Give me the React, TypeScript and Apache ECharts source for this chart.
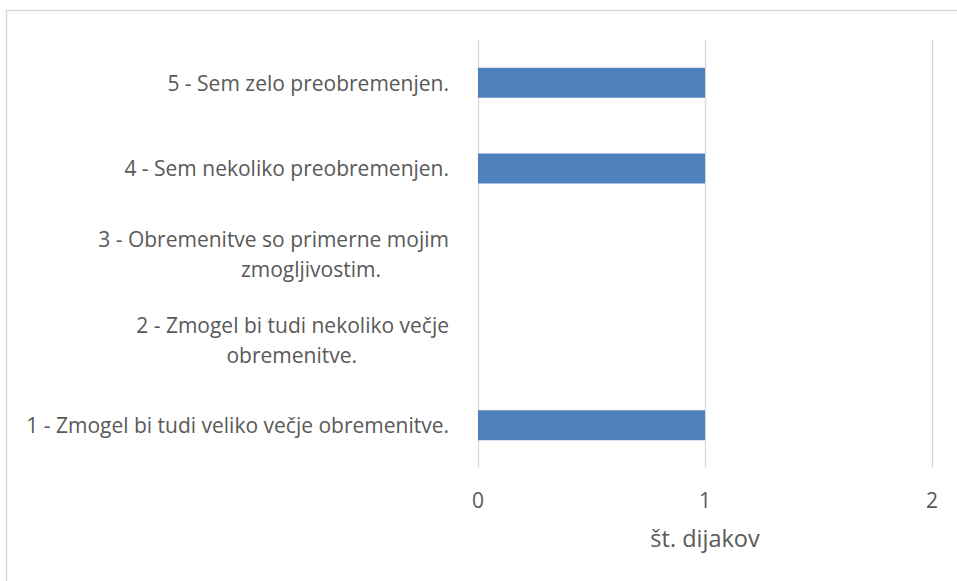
import React, { useEffect, useRef } from "react";
import * as echarts from "echarts";

const categories: string[] = [
  "1 - Zmogel bi tudi veliko večje obremenitve.",
  "2 - Zmogel bi tudi nekoliko večje\nobremenitve.",
  "3 - Obremenitve so primerne mojim\nzmogljivostim.",
  "4 - Sem nekoliko preobremenjen.",
  "5 - Sem zelo preobremenjen.",
];
const values: number[] = [1, 0, 0, 1, 1];
const xTicks: number[] = [0, 1, 2];
const axisName = "št. dijakov";

const FONT = "'Open Sans', sans-serif";
const TEXT = "#595959";
const FS = 21;
const LH = 30;

export default function App() {
  const ref = useRef<HTMLDivElement>(null);
  useEffect(() => {
    if (!ref.current) return;
    const chart = echarts.init(ref.current, undefined, { renderer: "svg" });
    const secondLinePad: Record<number, number> = { 1: 92, 2: 68 };
    const base = { color: TEXT, fontSize: FS, fontFamily: FONT, lineHeight: LH };
    chart.setOption({
      animation: false,
      backgroundColor: "#ffffff",
      textStyle: { fontFamily: FONT },
      graphic: [
        {
          type: "rect",
          shape: { x: 6.5, y: 10.5, width: 1000, height: 1000 },
          style: { fill: "none", stroke: "#d9d9d9", lineWidth: 1.5 },
          silent: true,
        },
      ],
      grid: { left: 478, right: 25, top: 40, bottom: 113, containLabel: false },
      xAxis: {
        type: "value",
        min: xTicks[0],
        max: xTicks[xTicks.length - 1],
        interval: 1,
        name: axisName,
        nameLocation: "middle",
        nameGap: 58,
        nameTextStyle: { color: TEXT, fontSize: 23.5, fontFamily: FONT },
        axisLine: { show: false },
        axisTick: { show: false },
        axisLabel: { color: TEXT, fontSize: FS, fontFamily: FONT, margin: 21 },
        splitLine: { show: true, lineStyle: { color: "#d9d9d9", width: 1.3 } },
      },
      yAxis: {
        type: "category",
        data: categories,
        axisLine: { show: false },
        axisTick: { show: false },
        splitLine: { show: false },
        axisLabel: {
          ...base,
          margin: 29,
          align: "right",
          formatter: (v: string, i: number) => {
            const parts = v.split("\n");
            if (parts.length < 2) return `{a|${parts[0]}}`;
            const p = secondLinePad[i] ?? 0;
            return `{a|${parts[0]}}\n{p${p}|${parts[1]}}`;
          },
          rich: {
            a: { ...base },
            p92: { ...base, padding: [0, 92, 0, 0] },
            p68: { ...base, padding: [0, 68, 0, 0] },
          },
        },
      },
      series: [
        {
          type: "bar",
          data: values,
          barCategoryGap: "65%",
          itemStyle: { color: "#4f81bd" },
        },
      ],
    });
    return () => chart.dispose();
  }, []);
  return (
    <div
      ref={ref}
      style={{ position: "absolute", left: 0, top: 0, width: 957, height: 581 }}
    />
  );
}
